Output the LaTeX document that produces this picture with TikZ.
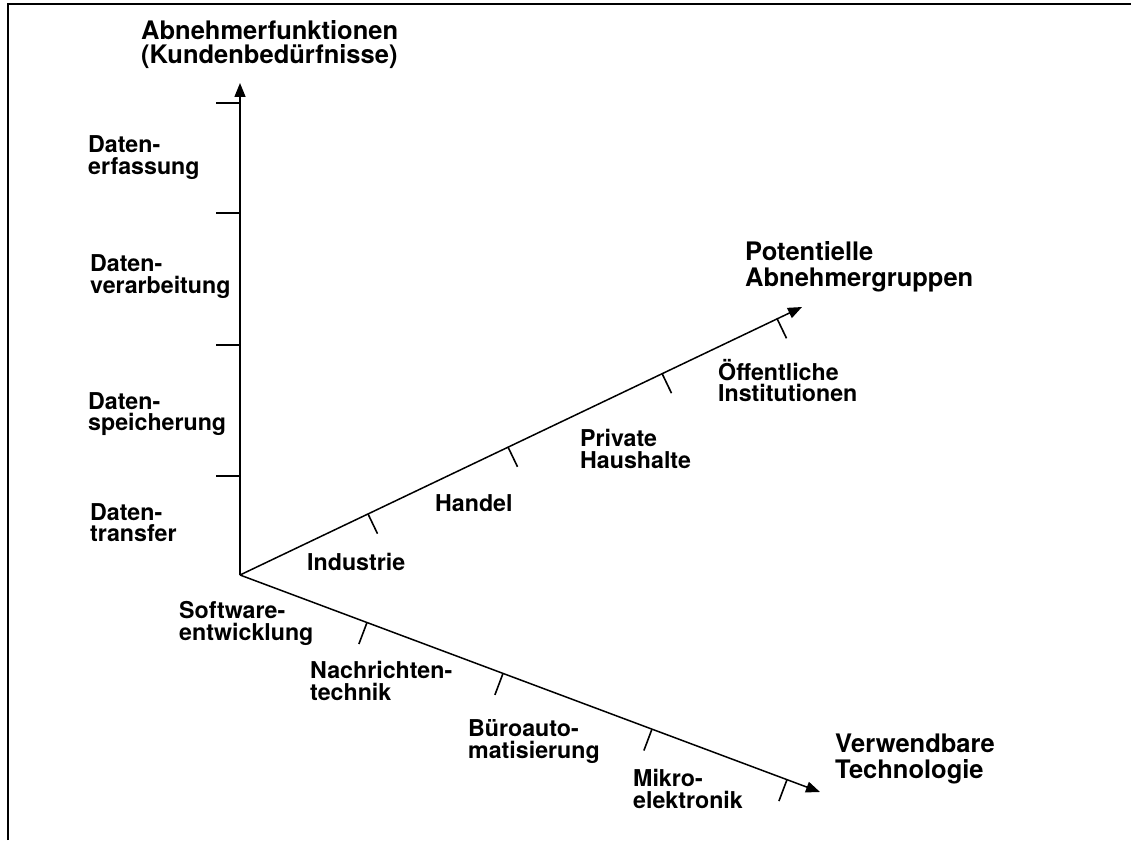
\documentclass[tikz,border=0pt]{standalone}
\usepackage{fontspec}
\setmainfont{TeX Gyre Heros}
\usetikzlibrary{arrows.meta}

\begin{document}
\begin{tikzpicture}
[x=1pt,y=-1pt,%
  axis/.style={line width=1.5pt,-{Triangle[length=14pt,width=11pt]}},%
  tickmark/.style={line width=1.6pt},%
  lbl/.style={anchor=base west,inner sep=0pt,align=left,%
    font=\bfseries\fontsize{23.2}{21.5}\selectfont},%
  ttl/.style={anchor=base west,inner sep=0pt,align=left,%
    font=\bfseries\fontsize{25.5}{26}\selectfont}]
\useasboundingbox (0,0) rectangle (1131,840);
\draw[line width=1.2pt] (8,840) -- (8,4) -- (1131,4);
\coordinate (O) at (240,575);
\coordinate (fkt) at (240,83);
\coordinate (grp) at (802,307);
\coordinate (tech) at (820,792);
\draw[axis] (O) -- (fkt);
\draw[axis] (O) -- (grp);
\draw[axis] (O) -- (tech);
\coordinate (f1) at (240,103);
\coordinate (f2) at (240,213);
\coordinate (f3) at (240,345);
\coordinate (f4) at (240,476);
\draw[tickmark] (f1) -- ++(-24,0);
\draw[tickmark] (f2) -- ++(-24,0);
\draw[tickmark] (f3) -- ++(-24,0);
\draw[tickmark] (f4) -- ++(-24,0);
\coordinate (g1) at (368,513.9);
\coordinate (g2) at (508,447.0);
\coordinate (g3) at (662,373.4);
\coordinate (g4) at (777,318.5);
\draw[tickmark] (g1) -- ++(9.5,19.8);
\draw[tickmark] (g2) -- ++(9.5,19.8);
\draw[tickmark] (g3) -- ++(9.5,19.8);
\draw[tickmark] (g4) -- ++(9.5,19.8);
\coordinate (t1) at (367,622.5);
\coordinate (t2) at (503,673.4);
\coordinate (t3) at (652,729.0);
\coordinate (t4) at (787,779.6);
\draw[tickmark] (t1) -- ++(-8.1,21.5);
\draw[tickmark] (t2) -- ++(-8.1,21.5);
\draw[tickmark] (t3) -- ++(-8.1,21.5);
\draw[tickmark] (t4) -- ++(-8.1,21.5);
\node[ttl,font=\bfseries\fontsize{25.5}{23.5}\selectfont] (ttlfkt) at (141,63.3)
  {Abnehmerfunktionen\\(Kundenbedürfnisse)};
\node[ttl] (ttlgrp) at (745,286.7) {Potentielle\\Abnehmergruppen};
\node[ttl] (ttltech) at (835,778) {Verwendbare\\Technologie};
\node[lbl] (erf) at (88,174) {Daten-\\erfassung};
\node[lbl] (verarb) at (90,293) {Daten-\\verarbeitung};
\node[lbl] (speich) at (88,430.7) {Daten-\\speicherung};
\node[lbl] (transf) at (90,541.7) {Daten-\\transfer};
\node[lbl] (ind) at (307,570) {Industrie};
\node[lbl] (hdl) at (435,511) {Handel};
\node[lbl] (priv) at (580,468) {Private\\Haushalte};
\node[lbl] (oeff) at (718,401.7) {Öffentliche\\Institutionen};
\node[lbl] (softw) at (179,640) {Software-\\entwicklung};
\node[lbl] (nachr) at (310,700) {Nachrichten-\\technik};
\node[lbl] (buero) at (468,758.3) {Büroauto-\\matisierung};
\node[lbl] (mikro) at (633,808) {Mikro-\\elektronik};
\end{tikzpicture}
\end{document}
